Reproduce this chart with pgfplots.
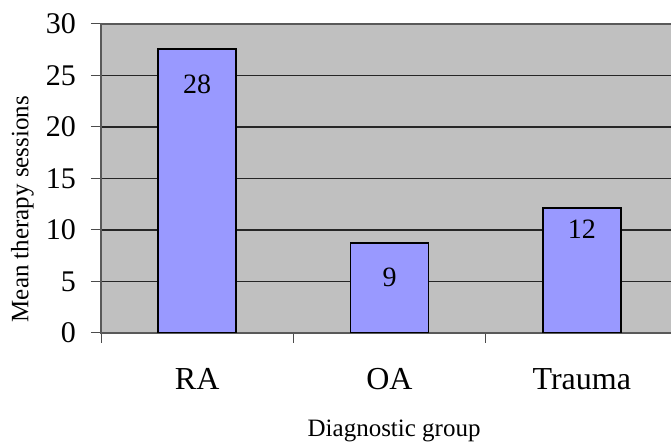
\documentclass[border=0pt]{standalone}
\usepackage{fontspec}
\setmainfont{Liberation Serif}
\usepackage{pgfplots}
\pgfplotsset{compat=1.18}
\definecolor{plotgray}{HTML}{C0C0C0}
\definecolor{barblue}{HTML}{9999FF}
\begin{document}
\begin{tikzpicture}
\begin{axis}[
  at={(101pt,110pt)}, anchor=south west,
  scale only axis, width=577pt, height=309pt,
  xmin=-0.5, xmax=2.5, ymin=0, ymax=30,
  /pgf/number format/assume math mode=true,
  axis background/.style={fill=plotgray},
  axis line style={draw=black!65, line width=1.5pt},
  tick pos=left, tick align=outside,
  major tick length=10pt,
  tick style={draw=black!70, line width=1pt},
  ytick={0,5,...,30},
  ymajorgrids, grid style={draw=black!85, line width=1.2pt},
  xtick={-0.5,0.5,1.5,2.5}, xticklabels={},
  extra x ticks={0,1,2},
  extra x tick labels={RA,OA,Trauma},
  extra x tick style={major tick length=0pt, grid=none,
     xticklabel style={font=\fontsize{32}{34}\selectfont, anchor=base, yshift=-57pt}},
  yticklabel style={font=\fontsize{30}{32}\selectfont, anchor=east, inner sep=0pt, xshift=-15pt},
  ylabel={Mean therapy sessions},
  xlabel={Diagnostic group},
  every axis y label/.style={at={(rel axis cs:0,0.401)}, xshift=-78.5pt, rotate=90, anchor=center, font=\fontsize{25}{27}\selectfont},
  every axis x label/.style={at={(rel axis cs:0.508,0)}, yshift=-98pt, anchor=center, font=\fontsize{25}{27}\selectfont},
]
\addplot[ybar, bar width=78pt, fill=barblue, draw=black, line width=1.8pt]
  coordinates {(0,27.6) (1,8.75) (2,12.1)};
\addplot[only marks, mark=none, nodes near coords, point meta=explicit symbolic,
  nodes near coords style={anchor=center, font=\fontsize{28}{30}\selectfont}]
  coordinates {(0,24.1)[28] (1,5.4)[9] (2,10.05)[12]};
\end{axis}
\pgfresetboundingbox
\useasboundingbox (0,0) rectangle (671pt,443pt);
\end{tikzpicture}
\end{document}
